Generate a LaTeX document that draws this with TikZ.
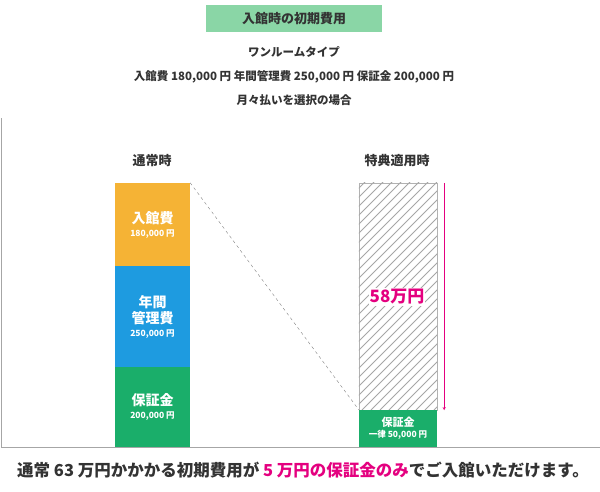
\documentclass[tikz,border=0pt]{standalone}
\usepackage{fontspec}
\setmainfont{Noto Sans CJK JP}
\definecolor{cOrange}{HTML}{F5B335}
\definecolor{cBlue}{HTML}{1E9BE0}
\definecolor{cGreen}{HTML}{1AAE6A}
\definecolor{cPink}{HTML}{E4007F}
\definecolor{cTitle}{HTML}{8AD6A6}
\definecolor{cText}{HTML}{333333}
\begin{document}
\begin{tikzpicture}[x=1pt,y=-1pt,
	bar/.style={rectangle, draw=none, text=white, align=center, font=\bfseries\fontsize{14}{16}\selectfont, inner sep=0pt},
	head/.style={font=\bfseries\fontsize{13}{15}\selectfont, text=cText},
	>=stealth]
	\useasboundingbox (0,0) rectangle (600,491);
	
	%Title
	\node[fill=cTitle, minimum width=176pt, minimum height=27pt, head] (title) at (294,18.5) {入館時の初期費用};
	\node[align=center, text=cText, font=\bfseries\fontsize{11.5}{24}\selectfont] (info) at (294,76) {ワンルームタイプ\\入館費 180,000 円 年間管理費 250,000 円 保証金 200,000 円\\月々払いを選択の場合};
	
	%Axes
	\draw[gray!70] (1,118) -- (1,447) -- (600,447);
	
	%Left bars
	\node[head] (normal) at (152,161) {通常時};
	\node[bar, fill=cOrange, minimum width=75pt, minimum height=83pt] (entry) at (152.5,224.5) {入館費\\[-3pt]{\fontsize{8.5}{10}\selectfont 180,000 円}};
	\node[bar, fill=cBlue, minimum width=75pt, minimum height=101pt] (manage) at (152.5,316.5) {年間\\管理費\\[-3pt]{\fontsize{8.5}{10}\selectfont 250,000 円}};
	\node[bar, fill=cGreen, minimum width=75pt, minimum height=80pt] (deposit) at (152.5,407) {保証金\\[-3pt]{\fontsize{8.5}{10}\selectfont 200,000 円}};
	
	%Right bars
	\node[head] (special) at (397,161) {特典適用時};
	\node[bar, draw=gray!60, minimum width=78pt, minimum height=227pt] (saved) at (398,296.5) {};
	\begin{scope}
		\clip (saved.north west) rectangle (saved.south east);
		\foreach \i in {0,9,...,320}
			\draw[gray!70, line width=0.8pt] (359+\i-240,410) -- ++(240,-240);
	\end{scope}
	\node[font=\bfseries\fontsize{17}{18}\selectfont, text=cPink, fill=white, inner sep=1pt] (amount) at (397,297) {58万円};
	\node[bar, fill=cGreen, minimum width=78pt, minimum height=37pt, font=\bfseries\fontsize{11}{13}\selectfont] (flat) at (398,428.5) {保証金\\[-2pt]{\fontsize{8.5}{10}\selectfont 一律 50,000 円}};
	
	%Lines
	\draw[gray, dashed] (entry.north east) -- (flat.north west);
	\draw[cPink, ->] ([xshift=7pt]saved.north east) -- ([xshift=7pt]saved.south east);
	
	%Footer
	\node[text=cText, font=\bfseries\fontsize{16.5}{18}\selectfont] (footer) at (303,470) {通常 63 万円かかかる初期費用が \textcolor{cPink}{5 万円の保証金のみ}でご入館いただけます。};
\end{tikzpicture}
\end{document}
